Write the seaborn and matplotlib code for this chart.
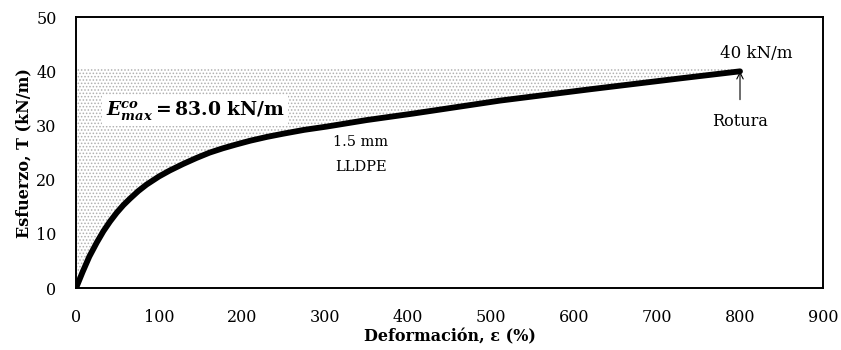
import matplotlib
matplotlib.use("Agg")
import matplotlib.pyplot as plt
import seaborn as sns
import pandas as pd

# Stress-strain curve of 1.5 mm LLDPE geomembrane
strain = [0, 8, 16, 25, 33, 41, 49, 57, 65, 75, 85, 100, 113, 129, 145, 161, 177, 193,
          210, 230, 250, 275, 302, 350, 406, 511, 620, 728, 800]
stress = [0, 3.0, 5.8, 8.4, 10.5, 12.3, 13.9, 15.3, 16.5, 17.9, 19.1, 20.6, 21.7, 22.9,
          24.0, 25.0, 25.8, 26.5, 27.2, 27.9, 28.5, 29.2, 29.8, 31.0, 32.2, 34.6, 36.7,
          38.7, 40.0]
energy_top = 40.5
x_ticks = [0, 100, 200, 300, 400, 500, 600, 700, 800, 900]
y_ticks = [0, 10, 20, 30, 40, 50]

df = pd.DataFrame({"strain": strain, "stress": stress})

sns.set_theme(style="white")
plt.rcParams["font.family"] = ["DejaVu Serif"]
plt.rcParams["mathtext.fontset"] = "dejavuserif"
plt.rcParams["hatch.color"] = "#b0b0b0"
plt.rcParams["hatch.linewidth"] = 0.7

fig = plt.figure(figsize=(8.41, 3.5), dpi=100)
ax = fig.add_axes([0.0904, 0.177, 0.8882, 0.774])

# dotted area between the curve and the breaking load
ax.fill_between(df["strain"], df["stress"], energy_top, facecolor="white",
                edgecolor="#b0b0b0", hatch=".....", linewidth=0, zorder=1)

sns.lineplot(data=df, x="strain", y="stress", ax=ax, color="black",
             linewidth=4.2, zorder=3, solid_capstyle="round")

ax.set_xlim(0, 900)
ax.set_ylim(0, 50)
ax.set_xticks(x_ticks)
ax.set_yticks(y_ticks)
ax.tick_params(axis="both", length=0, labelsize=11.5, colors="black")
ax.tick_params(axis="x", pad=15)
ax.tick_params(axis="y", pad=14)

for s in ax.spines.values():
    s.set_color("black")
    s.set_linewidth(1.4)

ax.set_xlabel("Deformación, ε (%)", fontsize=11.5, fontweight="bold", labelpad=2,
              color="black")
ax.set_ylabel("Esfuerzo, T (kN/m)", fontsize=11.5, fontweight="bold", labelpad=3,
              color="black")

ax.text(36, 32.8, r"$\mathbfit{E}_{\mathbfit{max}}^{\mathbfit{co}}\mathbf{ = 83.0\ kN/m}$",
        fontsize=13.5, ha="left", va="center", zorder=4, color="black",
        bbox=dict(facecolor="white", edgecolor="none", pad=3))

ax.text(343, 27.0, "1.5 mm", fontsize=10.5, ha="center", va="center", color="black")
ax.text(343, 22.4, "LLDPE", fontsize=10.5, ha="center", va="center", color="black")

ax.text(strain[-1] + 19, 43.2, f"{stress[-1]:.0f} kN/m",
        fontsize=12, ha="center", va="center", color="black")
ax.annotate("Rotura", xy=(strain[-1], stress[-1]), xytext=(strain[-1], 30.8),
            fontsize=11.5, ha="center", va="center", color="black",
            arrowprops=dict(arrowstyle="->", color="black", lw=0.8,
                            shrinkA=7, shrinkB=0))

fig.savefig("out.png", dpi=100)
